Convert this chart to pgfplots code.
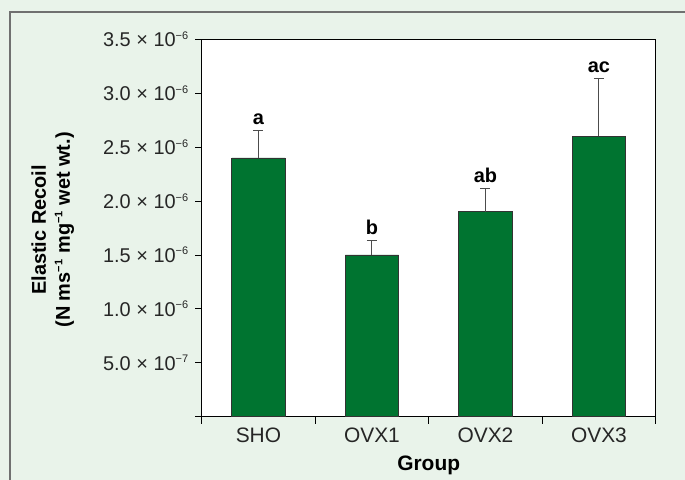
\documentclass[border=0pt]{standalone}
\usepackage{pgfplots}
\pgfplotsset{compat=1.18}
\usepackage{fontspec}
\setmainfont{Liberation Sans}
\definecolor{bgc}{RGB}{233,243,234}
\definecolor{barc}{RGB}{0,116,48}
\definecolor{framec}{RGB}{112,112,112}
\newcommand{\tl}[2]{#1 \texttimes{} 10\textsuperscript{\fontsize{11}{11}\selectfont −#2}}
\begin{document}
\begin{tikzpicture}
\useasboundingbox (0bp,0bp) rectangle (685bp,-480bp);
\fill[bgc] (0bp,0bp) rectangle (685bp,-480bp);
\draw[framec, line width=1.5bp] (10bp,-520bp) -- (10bp,-12bp) -- (720bp,-12bp);
\begin{axis}[
  at={(201.7bp,-416.7bp)}, anchor=south west,
  scale only axis, width=454bp, height=377.4bp,
  xmin=-0.5, xmax=3.5, ymin=0, ymax=3.5e-6,
  axis background/.style={fill=white},
  axis line style={black, line width=0.8bp},
  ybar, bar width=53.4bp,
  xtick={0,1,2,3}, xticklabels={SHO,OVX1,OVX2,OVX3},
  major x tick style={draw=none},
  minor xtick={-0.5,0.5,1.5,2.5,3.5},
  minor tick length=7bp,
  xtick pos=bottom, ytick pos=left, tick align=outside,
  ytick={0,0.5e-6,1e-6,1.5e-6,2e-6,2.5e-6,3e-6,3.5e-6},
  yticklabels={,\tl{5.0}{7},\tl{1.0}{6},\tl{1.5}{6},\tl{2.0}{6},\tl{2.5}{6},\tl{3.0}{6},\tl{3.5}{6}},
  major tick length=6.5bp,
  tick style={black, line width=0.8bp},
  scaled y ticks=false,
  ticklabel style={font=\fontsize{20}{24}\selectfont, text=black!85},
  yticklabel style={xshift=-3bp},
  xticklabel style={yshift=-1bp, font=\fontsize{21}{24}\selectfont},
  xlabel={\textbf{Group}},
  xlabel style={font=\fontsize{21}{24}\selectfont, at={(axis description cs:0.5,0)}, anchor=center, yshift=-49bp},
  ylabel style={font=\fontsize{20}{24}\selectfont\bfseries, align=center, at={(axis description cs:0,0.495)}, anchor=center, yshift=149bp},
  ylabel={Elastic Recoil\\(N ms\textsuperscript{\fontsize{11}{11}\selectfont −1} mg\textsuperscript{\fontsize{11}{11}\selectfont −1} wet wt.)},
  clip=false,
]
\addplot[fill=barc, draw=black!80, line width=0.8bp,
  error bars/.cd, y dir=plus, y explicit,
  error bar style={black!70, line width=1bp},
  error mark options={rotate=90, mark size=5bp, black!70, line width=1bp}]
  coordinates {
  (0,2.40e-6) +- (0,0.25e-6)
  (1,1.50e-6) +- (0,0.13e-6)
  (2,1.90e-6) +- (0,0.22e-6)
  (3,2.60e-6) +- (0,0.535e-6)
  };
\begin{scope}[every node/.style={anchor=base, yshift=6bp, font=\fontsize{20}{24}\selectfont\bfseries}]
\node at (axis cs:0,2.65e-6) {a};
\node at (axis cs:1,1.63e-6) {b};
\node at (axis cs:2,2.12e-6) {ab};
\node at (axis cs:3,3.135e-6) {ac};
\end{scope}
\end{axis}
\end{tikzpicture}
\end{document}
